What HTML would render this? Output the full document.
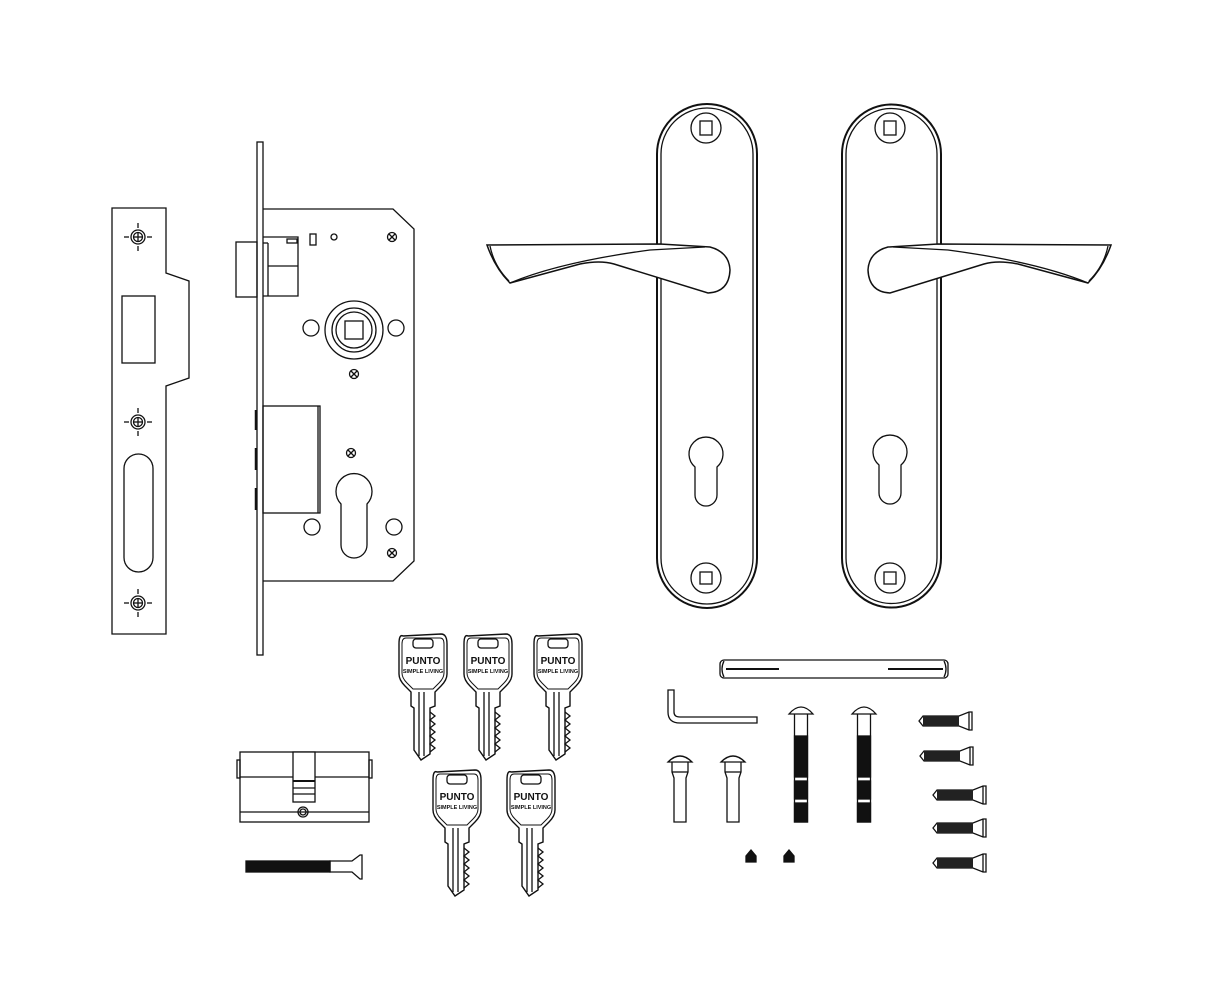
<!DOCTYPE html>
<html><head><meta charset="utf-8"><style>
html,body{margin:0;padding:0;background:#fff;}
svg{display:block}
</style></head><body>
<svg width="1223" height="1000" viewBox="0 0 1223 1000" xmlns="http://www.w3.org/2000/svg" fill="none" stroke="#111" stroke-width="1.3">
<defs>
<g id="scr"><circle r="7"/><circle r="4.5"/><line x1="-4.5" y1="0" x2="4.5" y2="0"/><line x1="0" y1="-4.5" x2="0" y2="4.5"/><line x1="-14" y1="0" x2="-9" y2="0"/><line x1="9" y1="0" x2="14" y2="0"/><line x1="0" y1="-14" x2="0" y2="-9"/><line x1="0" y1="9" x2="0" y2="14"/></g>
<g id="x"><circle r="4.5"/><line x1="-3" y1="-3" x2="3" y2="3"/><line x1="-3" y1="3" x2="3" y2="-3"/></g>
<g id="key">
<path d="M-20,-58 Q-24,-60 -24,-50 L-24,-20 Q-24,-14 -18,-8 L-12,-2 L-12,12 L-9,14 L-9,56 L-2,66 L7,60 L7,14 L12,12 L12,-2 L18,-8 Q24,-14 24,-20 L24,-50 Q24,-60 18,-60 Z" stroke-width="1.4"/>
<path d="M-17,-56 L17,-56 Q21,-56 21,-50 L21,-21 Q21,-16 16,-11 L10,-5 L-10,-5 L-16,-11 Q-21,-16 -21,-21 L-21,-50 Q-21,-56 -17,-56 Z" stroke-width="1"/>
<rect x="-10" y="-55" width="20" height="9" rx="3"/>
<text x="0" y="-30" font-family="Liberation Sans, sans-serif" font-size="10" font-weight="bold" fill="#111" stroke="none" text-anchor="middle">PUNTO</text>
<text x="0" y="-21" font-family="Liberation Sans, sans-serif" font-size="5.5" font-weight="bold" fill="#111" stroke="none" text-anchor="middle">SIMPLE LIVING</text>
<line x1="-4" y1="-2" x2="-4" y2="62"/><line x1="1" y1="-2" x2="1" y2="62"/>
<path d="M7,18 l5,4 l-5,4 l5,4 l-5,4 l5,4 l-5,4 l5,4 l-5,4 l5,4 l-5,4" />
</g>
<g id="ws"><path d="M0,0 L4,-5 L40,-5 L50,-9 L53,-9 L53,9 L50,9 L40,5 L4,5 Z" fill="#fff"/><rect x="4" y="-5" width="36" height="10" fill="#222" stroke="none"/><path d="M50,-9 L50,9"/></g>
<g id="sb"><path d="M-12,0 Q0,-12 12,0 Z"/><path d="M-8,0 L-8,10 L-6,16 L-6,60 L6,60 L6,16 L8,10 L8,0"/><line x1="-8" y1="10" x2="8" y2="10"/></g>
<g id="lb"><path d="M-12,6 Q0,-8 12,6 Z"/><path d="M-6.5,6 L-6.5,114 L6.5,114 L6.5,6"/><rect x="-6.5" y="28" width="13" height="41" fill="#111"/><rect x="-6.5" y="73" width="13" height="18" fill="#111"/><rect x="-6.5" y="95" width="13" height="19" fill="#111"/></g>
</defs>

<!-- strike plate -->
<path d="M112,208 L166,208 L166,273 L189,281 L189,378 L166,386 L166,634 L112,634 Z"/>
<rect x="122" y="296" width="33" height="67"/>
<rect x="124" y="454" width="29" height="118" rx="14.5"/>
<use href="#scr" x="138" y="237"/><use href="#scr" x="138" y="422"/><use href="#scr" x="138" y="603"/>

<!-- lock body -->
<rect x="257" y="142" width="6" height="513"/>
<path d="M263,209 L393,209 L414,229 L414,561 L393,581 L263,581"/>
<rect x="236" y="242" width="21" height="55"/>
<path d="M263,237 L298,237 L298,296 L263,296"/><line x1="263" y1="243" x2="268" y2="243"/><line x1="268" y1="243" x2="268" y2="296"/>
<line x1="268" y1="266" x2="298" y2="266"/>
<rect x="287" y="239" width="10" height="4"/>
<rect x="310" y="234" width="6" height="11"/><circle cx="334" cy="237" r="3"/>
<rect x="263" y="406" width="57" height="107"/><line x1="318" y1="406" x2="318" y2="513"/>
<line x1="256" y1="410" x2="256" y2="430" stroke-width="2.5"/><line x1="256" y1="448" x2="256" y2="470" stroke-width="2.5"/><line x1="256" y1="488" x2="256" y2="510" stroke-width="2.5"/>
<circle cx="354" cy="330" r="29"/><circle cx="354" cy="330" r="22"/><circle cx="354" cy="330" r="18"/>
<rect x="345" y="321" width="18" height="18"/>
<circle cx="311" cy="328" r="8"/><circle cx="396" cy="328" r="8"/>
<use href="#x" x="354" y="374"/><use href="#x" x="351" y="453"/><use href="#x" x="392" y="237"/><use href="#x" x="392" y="553"/>
<path d="M341,504 A18,18 0 1 1 367,504 L367,545 A13,13 0 0 1 341,545 Z"/>
<circle cx="312" cy="527" r="8"/><circle cx="394" cy="527" r="8"/>

<!-- handle plates -->
<g stroke-width="2">
<path d="M657,154 A50,50 0 0 1 757,154 L757,558 A50,50 0 0 1 657,558 Z"/>
<path d="M842,154 A49.5,49.5 0 0 1 941,154 L941,558 A49.5,49.5 0 0 1 842,558 Z"/>
</g>
<path d="M661,154 A46,46 0 0 1 753,154 L753,558 A46,46 0 0 1 661,558 Z"/>
<path d="M846,154 A45.5,45.5 0 0 1 937,154 L937,558 A45.5,45.5 0 0 1 846,558 Z"/>
<circle cx="706" cy="128" r="15"/><rect x="700" y="121" width="12" height="14"/>
<circle cx="706" cy="578" r="15"/><rect x="700" y="572" width="12" height="12"/>
<circle cx="890" cy="128" r="15"/><rect x="884" y="121" width="12" height="14"/>
<circle cx="890" cy="578" r="15"/><rect x="884" y="572" width="12" height="12"/>
<path d="M695,467 A17,17 0 1 1 717,467 L717,495 A11,11 0 0 1 695,495 Z"/>
<path d="M879,465 A17,17 0 1 1 901,465 L901,493 A11,11 0 0 1 879,493 Z"/>
<!-- levers -->
<path d="M487,245 L660,244 L710,247 Q729,252 730,270 Q729,292 708,293 L614,264 Q600,260 580,264 L510,283 Q495,268 487,245 Z" fill="#fff" stroke-width="1.5"/>
<path d="M510,283 Q560,262 650,250 L705,247"/>
<path d="M490,246 Q494,266 509,281"/>
<path d="M1111,245 L938,244 L888,247 Q869,252 868,270 Q869,292 890,293 L984,264 Q998,260 1018,264 L1088,283 Q1103,268 1111,245 Z" fill="#fff" stroke-width="1.5"/>
<path d="M1088,283 Q1038,262 948,250 L893,247"/>
<path d="M1108,246 Q1104,266 1089,281"/>

<!-- keys -->
<use href="#key" x="423" y="694"/><use href="#key" x="488" y="694"/><use href="#key" x="558" y="694"/>
<use href="#key" x="457" y="830"/><use href="#key" x="531" y="830"/>

<!-- cylinder -->
<rect x="240" y="752" width="129" height="70"/>
<line x1="240" y1="777" x2="369" y2="777"/><line x1="240" y1="812" x2="369" y2="812"/>
<rect x="237" y="760" width="3" height="18"/><rect x="369" y="760" width="3" height="18"/>
<rect x="293" y="752" width="22" height="50" fill="#fff"/>
<line x1="293" y1="781" x2="315" y2="781" stroke-width="2"/><line x1="293" y1="788" x2="315" y2="788"/><line x1="293" y1="794" x2="315" y2="794"/>
<circle cx="303" cy="812" r="5"/><circle cx="303" cy="812" r="3"/>
<!-- long screw -->
<rect x="246" y="861" width="84" height="11" fill="#111"/>
<path d="M330,861 L352,861 L360,855 L362,855 L362,879 L360,879 L352,872 L330,872 Z"/>

<!-- spindle -->
<rect x="720" y="660" width="228" height="18" rx="4"/>
<line x1="726" y1="669" x2="779" y2="669" stroke-width="2"/><line x1="888" y1="669" x2="943" y2="669" stroke-width="2"/>
<path d="M724,661 Q720,669 724,677"/><path d="M944,661 Q948,669 944,677"/>
<!-- allen key -->
<path d="M668,690 L674,690 L674,712 Q674,717 680,717 L757,717 L757,723 L680,723 Q668,723 668,712 Z"/>
<!-- bolts -->
<use href="#sb" x="680" y="762"/><use href="#sb" x="733" y="762"/>
<use href="#lb" x="801" y="708"/><use href="#lb" x="864" y="708"/>
<path d="M746,862 L746,856 L751,850 L756,856 L756,862 Z" fill="#111"/><path d="M784,862 L784,856 L789,850 L794,856 L794,862 Z" fill="#111"/>
<!-- wood screws -->
<use href="#ws" x="919" y="721"/><use href="#ws" x="920" y="756"/><use href="#ws" x="933" y="795"/><use href="#ws" x="933" y="828"/><use href="#ws" x="933" y="863"/>
</svg>
</body></html>
